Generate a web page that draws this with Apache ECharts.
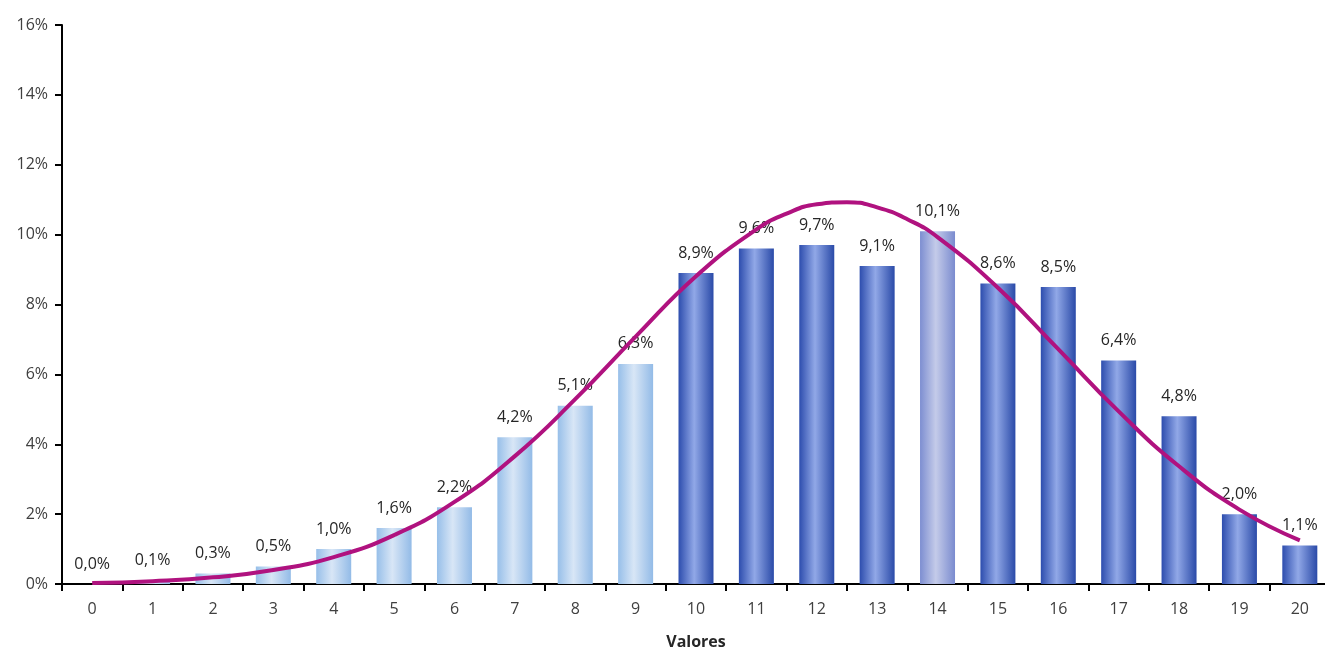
<!DOCTYPE html>
<html><head><meta charset="utf-8">
<script src="https://cdn.jsdelivr.net/npm/echarts@6/dist/echarts.min.js"></script>
<style>html,body{margin:0;padding:0;background:#fff}#c{width:1325px;height:648px}</style>
</head><body><div id="c"></div>
<script>
const categories = ['0','1','2','3','4','5','6','7','8','9','10','11','12','13','14','15','16','17','18','19','20'];
const barValues = [0.0,0.1,0.3,0.5,1.0,1.6,2.2,4.2,5.1,6.3,8.9,9.6,9.7,9.1,10.1,8.6,8.5,6.4,4.8,2.0,1.1];
// bar style group: 0 = light, 1 = dark, 2 = lavender
const barGroup = [0,0,0,0,0,0,0,0,0,0,1,1,1,1,2,1,1,1,1,1,1];
// fitted curve (x, %)
const curveX = [0,1,2,3,4,5,6,7,8,9,10,11,11.5,12,12.5,13,13.5,14,15,16,17,18,19,20];
const curveY = [0.03,0.08,0.19,0.40,0.77,1.40,2.35,3.66,5.29,7.08,8.81,10.15,10.60,10.87,10.93,10.78,10.44,9.93,8.48,6.72,4.94,3.37,2.13,1.25];
const yTicks = [0,2,4,6,8,10,12,14,16];

function grad(l, m, r) {
  return new echarts.graphic.LinearGradient(0,0,1,0,[
    {offset:0,color:l},{offset:0.45,color:m},{offset:1,color:r}]);
}
const styles = [
  grad('#97BFE9','#D8E6F6','#93BBE7'),
  grad('#2D4DAE','#91A8E7','#2A4AA8'),
  grad('#7D8ED1','#C4CBE9','#7A8BCF')
];
const barData = barValues.map((v,i)=>({value:v,itemStyle:{color:styles[barGroup[i]]}}));
const lineData = curveX.map((x,i)=>[x,curveY[i]]);

const font = 'Open Sans, Noto Sans, sans-serif';
const chart = echarts.init(document.getElementById('c'));
chart.setOption({
  animation:false,
  grid:{left:62,width:1268,top:25,height:559,containLabel:false,outerBoundsMode:'none'},
  xAxis:[{
    type:'category',data:categories,
    name:'Valores',nameLocation:'middle',nameGap:50,
    nameTextStyle:{fontFamily:font,fontSize:16,fontWeight:'bold',color:'#262626'},
    axisLine:{lineStyle:{color:'#000',width:2}},
    axisTick:{show:true,length:7,lineStyle:{color:'#000',width:2},alignWithLabel:false},
    axisLabel:{fontFamily:font,fontSize:16,color:'#404040',margin:17}
  },{
    type:'value',min:-0.5,max:20.5,show:false
  }],
  yAxis:{
    type:'value',min:0,max:16,interval:2,
    axisLine:{show:true,onZero:false,lineStyle:{color:'#000',width:2}},
    axisTick:{show:true,length:7,lineStyle:{color:'#000',width:2}},
    splitLine:{show:false},
    axisLabel:{fontFamily:font,fontSize:16,color:'#404040',margin:14,formatter:v=>v+'%'}
  },
  series:[{
    type:'bar',data:barData,barWidth:35,xAxisIndex:0,
    label:{show:true,position:'top',distance:12,fontFamily:font,fontSize:16,color:'#262626',
      formatter:p=>p.value.toFixed(1).replace('.',',')+'%'},
    z:2
  },{
    type:'line',data:lineData,xAxisIndex:1,smooth:true,symbol:'none',
    lineStyle:{color:'#B0127F',width:4},z:3
  }]
});
</script></body></html>
